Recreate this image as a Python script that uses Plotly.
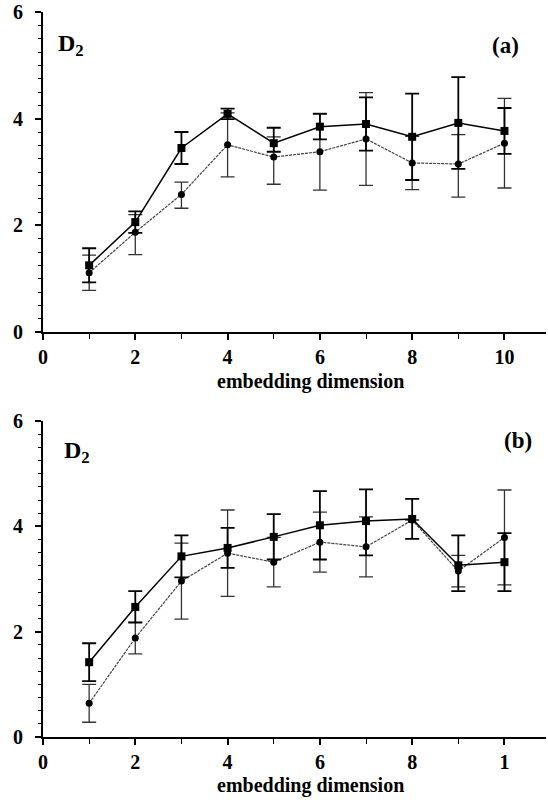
import plotly.graph_objects as go

dims = [1, 2, 3, 4, 5, 6, 7, 8, 9, 10]

# panel (a)
a_sq = [1.25, 2.06, 3.45, 4.09, 3.54, 3.85, 3.90, 3.66, 3.92, 3.77]
a_sq_plus = [0.32, 0.20, 0.30, 0.10, 0.29, 0.24, 0.50, 0.81, 0.86, 0.43]
a_sq_minus = [0.32, 0.20, 0.30, 0.10, 0.16, 0.24, 0.50, 0.81, 0.86, 0.43]
a_ci = [1.11, 1.87, 2.58, 3.51, 3.28, 3.38, 3.62, 3.17, 3.15, 3.54]
a_ci_plus = [0.33, 0.33, 0.23, 0.60, 0.38, 0.72, 0.87, 0.50, 0.55, 0.84]
a_ci_minus = [0.33, 0.42, 0.26, 0.60, 0.51, 0.72, 0.87, 0.50, 0.62, 0.84]

# panel (b)
b_sq = [1.42, 2.47, 3.43, 3.59, 3.80, 4.02, 4.10, 4.14, 3.26, 3.32]
b_sq_plus = [0.36, 0.30, 0.40, 0.38, 0.43, 0.65, 0.60, 0.38, 0.57, 0.55]
b_sq_minus = [0.36, 0.30, 0.40, 0.38, 0.43, 0.65, 0.65, 0.38, 0.49, 0.55]
b_ci = [0.64, 1.88, 2.96, 3.49, 3.32, 3.70, 3.61, 4.12, 3.15, 3.79]
b_ci_plus = [0.36, 0.30, 0.72, 0.82, 0.47, 0.57, 0.57, 0.0, 0.30, 0.90]
b_ci_minus = [0.36, 0.30, 0.72, 0.82, 0.47, 0.57, 0.57, 0.0, 0.30, 0.90]

x_tickvals = [0, 2, 4, 6, 8, 10]
a_ticktext = ["0", "2", "4", "6", "8", "10"]
b_ticktext = ["0", "2", "4", "6", "8", "1"]
y_tickvals = [0, 2, 4, 6]
y_ticktext = ["0", "2", "4", "6"]

FONT = "Liberation Serif"
fig = go.Figure()


def add_pair(sq, sqp, sqm, ci, cip, cim, xa, ya):
    fig.add_trace(go.Scatter(
        x=dims, y=ci, mode="lines+markers", xaxis=xa, yaxis=ya,
        line=dict(color="#444", width=1.2, dash="3px,1px"),
        marker=dict(symbol="circle", size=7, color="black"),
        error_y=dict(type="data", symmetric=False, array=cip, arrayminus=cim,
                     color="#333", thickness=1.3, width=7),
        showlegend=False))
    fig.add_trace(go.Scatter(
        x=dims, y=sq, mode="lines+markers", xaxis=xa, yaxis=ya,
        line=dict(color="black", width=1.5),
        marker=dict(symbol="square", size=8, color="black"),
        error_y=dict(type="data", symmetric=False, array=sqp, arrayminus=sqm,
                     color="black", thickness=1.8, width=7),
        showlegend=False))


add_pair(a_sq, a_sq_plus, a_sq_minus, a_ci, a_ci_plus, a_ci_minus, "x", "y")
add_pair(b_sq, b_sq_plus, b_sq_minus, b_ci, b_ci_plus, b_ci_minus, "x2", "y2")

W, H = 548, 800
xdom = [43 / W, 546 / W]
ya_dom = [1 - 332 / H, 1 - 12 / H]
yb_dom = [1 - 737 / H, 1 - 421 / H]

tickfont = dict(family=FONT, size=20, color="black", weight=700)


def bold(lst):
    return ["<b>%s</b>" % t for t in lst]


def xaxis(anchor, text):
    return dict(domain=xdom, anchor=anchor, range=[0, 10.9], showgrid=False,
                zeroline=False, showline=True, linecolor="black", linewidth=2,
                ticks="outside", ticklen=6, tickwidth=1.5, tickcolor="black",
                tickvals=x_tickvals, ticktext=bold(text), tickfont=tickfont,
                minor=dict(dtick=1, tick0=0, ticks="outside", ticklen=5,
                           tickwidth=1.2, tickcolor="black", showgrid=False),
                automargin=False, fixedrange=True)


def yaxis(anchor, dom):
    return dict(domain=dom, anchor=anchor, range=[0, 6], showgrid=False,
                zeroline=False, showline=True, linecolor="black", linewidth=2,
                ticks="outside", ticklen=6, tickwidth=1.5, tickcolor="black",
                tickvals=y_tickvals, ticktext=bold(y_ticktext), tickfont=tickfont,
                ticklabelstandoff=8,
                minor=dict(dtick=0.25, tick0=0, ticks="outside", ticklen=3,
                           tickwidth=1, tickcolor="black", showgrid=False),
                automargin=False, fixedrange=True)


fig.update_layout(
    width=W, height=H,
    margin=dict(l=0, r=0, t=0, b=0),
    paper_bgcolor="white", plot_bgcolor="white",
    xaxis=xaxis("y", a_ticktext),
    yaxis=yaxis("x", ya_dom),
    xaxis2=xaxis("y2", b_ticktext),
    yaxis2=yaxis("x2", yb_dom),
)

annots = [
    dict(text="<b>embedding dimension</b>", x=310 / W, y=1 - 381 / H, size=20),
    dict(text="<b>embedding dimension</b>", x=310 / W, y=1 - 785 / H, size=20),
    dict(text="<b>D<sub>2</sub></b>", x=71 / W, y=1 - 45 / H, size=24),
    dict(text="<b>D<sub>2</sub></b>", x=77 / W, y=1 - 452 / H, size=24),
    dict(text="<b>(a)</b>", x=505 / W, y=1 - 45 / H, size=23),
    dict(text="<b>(b)</b>", x=518 / W, y=1 - 440 / H, size=23),
]
for a in annots:
    fig.add_annotation(text=a["text"], x=a["x"], y=a["y"], xref="paper", yref="paper",
                       showarrow=False, xanchor="center", yanchor="middle",
                       font=dict(size=a["size"], family=FONT, color="black"))

fig.write_html("out.html")
